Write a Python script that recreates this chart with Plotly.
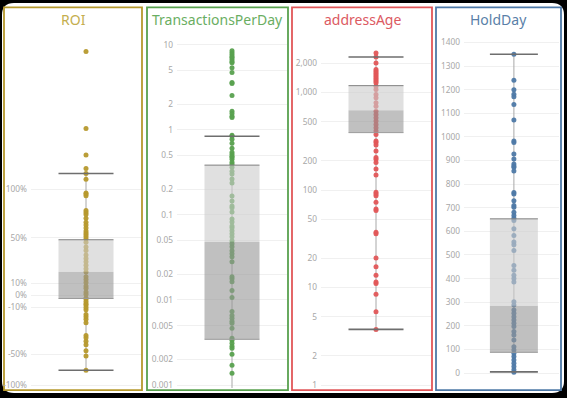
import numpy as np
import plotly.graph_objects as go

W, H = 567, 398

# ---------------- data ----------------
roi_pct = [241, 162, 135, 121, 116, 110, 96, 95, 93, 78, 76, 74, 70, 66, 63, 60, 57, 55, 53, 51,
           49, 46, 42, 39, 35, 32, 29, 26, 23, 20, 16, 13.5, 11, 8, 6, 3, 1, -2, -3, -5, -7, -8,
           -10, -12, -16, -18, -20, -23, -34, -36, -39, -42, -47, -53, -76]
roi_stats = dict(q1=-2.5, median=20.4, q3=48.3, low=-76, high=116)
roi_tick_pct = [-100, -50, -10, 0, 10, 50, 100]
roi_tick_text = ["-100%", "-50%", "-10%", "0%", "10%", "50%", "100%"]

tpd = [8.5, 8.06, 7.64, 7.24, 7.05, 6.68, 6.33, 6.16, 5.38, 4.71, 3.6, 3.5, 2.53, 1.65, 1.56,
       1.44, 1.40, 0.863, 0.84, 0.774, 0.695, 0.608, 0.546, 0.517, 0.49, 0.477, 0.452, 0.417,
       0.395, 0.364, 0.327, 0.302, 0.264, 0.237, 0.167, 0.146, 0.127, 0.121, 0.108, 0.0898,
       0.0828, 0.0743, 0.0705, 0.065, 0.060, 0.0553, 0.0497, 0.0458, 0.0423, 0.038, 0.035,
       0.0323, 0.0282, 0.0188, 0.0178, 0.0164, 0.0129, 0.0107, 0.00733, 0.00659, 0.00608,
       0.00561, 0.00531, 0.00464, 0.00355, 0.00336, 0.0031, 0.00286, 0.00271, 0.00231,
       0.00171, 0.00138]
tpd_stats = dict(q1=0.00345, median=0.0483, q3=0.385, low=0.0003, high=0.84)
tpd_ticks = [0.001, 0.002, 0.005, 0.01, 0.02, 0.05, 0.1, 0.2, 0.5, 1, 2, 5, 10]
tpd_tick_text = ["0.001", "0.002", "0.005", "0.01", "0.02", "0.05", "0.1", "0.2", "0.5", "1", "2", "5", "10"]

age = [2541, 2312, 2010, 1718, 1649, 1588, 1527, 1467, 1413, 1358, 1304, 1256, 1159, 1073, 955,
       883, 785, 725, 644, 597, 552, 510, 471, 436, 403, 372, 318, 307, 290, 252, 216, 207, 192,
       164, 143, 94.8, 91, 87.5, 74.9, 64, 61.5, 37, 35.6, 20.1, 16.3, 13.4, 11.4, 11, 8.55,
       5.65, 3.72]
age_stats = dict(q1=388, median=660, q3=1177, low=3.72, high=2312)
age_ticks = [1, 2, 5, 10, 20, 50, 100, 200, 500, 1000, 2000]
age_tick_text = ["1", "2", "5", "10", "20", "50", "100", "200", "500", "1,000", "2,000"]

hold = [1350, 1240, 1200, 1180, 1170, 1137, 1071, 983, 976, 927, 906, 885, 877, 871, 856, 765,
        758, 730, 709, 702, 681, 667, 656, 646, 611, 583, 555, 543, 519, 456, 435, 414, 400, 386,
        302, 288, 267, 253, 239, 225, 211, 197, 176, 161, 140, 112, 98, 84, 70, 56, 42, 28, 14, 4]
hold_stats = dict(q1=88, median=285, q3=653, low=5, high=1350)
hold_ticks = list(range(0, 1401, 100))

# custom ROI axis scale (tick anchors of the axis)
ROI_ANCHOR_PCT = [-100, -50, -10, 0, 10, 50, 100]
ROI_ANCHOR_POS = [-90, -59, -12, 0, 12, 58, 107]


def roi_scale(v):
    v = np.asarray(v, dtype=float)
    out = np.interp(v, ROI_ANCHOR_PCT, ROI_ANCHOR_POS)
    slope = (ROI_ANCHOR_POS[-1] - ROI_ANCHOR_POS[-2]) / (ROI_ANCHOR_PCT[-1] - ROI_ANCHOR_PCT[-2])
    hi = v > ROI_ANCHOR_PCT[-1]
    out[hi] = ROI_ANCHOR_POS[-1] + (v[hi] - ROI_ANCHOR_PCT[-1]) * slope
    return out


# ---------------- layout helpers ----------------
def px_x(p):
    return p / W


def px_y(p):
    return 1 - p / H


PLOT_TOP, PLOT_BOT = 35, 390

panels = [
    dict(title="ROI", color="#B6992D", title_color="#C4AE4E", border=(4, 142), dom=(31, 141),
         xr=(-1, 1), ytype="linear", yr=(-93, 262),
         vals=roi_scale(roi_pct), stats={k: float(roi_scale([v])[0]) for k, v in roi_stats.items()},
         tickvals=list(roi_scale(roi_tick_pct)), ticktext=roi_tick_text),
    dict(title="TransactionsPerDay", color="#59A14F", title_color="#6AAE62", border=(147, 288), dom=(177, 287),
         xr=(-1, 1), ytype="log", yr=(-3.035, 1.117),
         vals=tpd, stats=tpd_stats, tickvals=tpd_ticks, ticktext=tpd_tick_text),
    dict(title="addressAge", color="#E15759", title_color="#DC5A62", border=(292, 432), dom=(321, 431),
         xr=(-1, 1), ytype="log", yr=(-0.031, 3.592),
         vals=age, stats=age_stats, tickvals=age_ticks, ticktext=age_tick_text),
    dict(title="HoldDay", color="#4E79A7", title_color="#5A7FA8", border=(436, 561), dom=(464, 559),
         xr=(-1.04, 0.94), ytype="linear", yr=(-63.2, 1432),
         vals=hold, stats=hold_stats, tickvals=hold_ticks, ticktext=[str(t) for t in hold_ticks]),
]

fig = go.Figure()
HW = 0.5
shapes = []

# black frame with white rounded card
L, R, T, B, r = 2, 564, 3, 395, 12
path = (f"M {px_x(L + r)} {px_y(T)} L {px_x(R - r)} {px_y(T)} Q {px_x(R)} {px_y(T)} {px_x(R)} {px_y(T + r)} "
        f"L {px_x(R)} {px_y(B - r)} Q {px_x(R)} {px_y(B)} {px_x(R - r)} {px_y(B)} "
        f"L {px_x(L + r)} {px_y(B)} Q {px_x(L)} {px_y(B)} {px_x(L)} {px_y(B - r)} "
        f"L {px_x(L)} {px_y(T + r)} Q {px_x(L)} {px_y(T)} {px_x(L + r)} {px_y(T)} Z")
shapes.append(dict(type="path", xref="paper", yref="paper", path=path, fillcolor="white",
                   line=dict(width=0), layer="below"))

annotations = []
for i, p in enumerate(panels, start=1):
    xa, ya = f"x{i}" if i > 1 else "x", f"y{i}" if i > 1 else "y"
    st = p["stats"]
    # vertical whisker line
    fig.add_trace(go.Scatter(x=[0, 0], y=[st["low"], st["high"]], mode="lines",
                             line=dict(color="#A8A8A8", width=1), xaxis=xa, yaxis=ya,
                             hoverinfo="skip", showlegend=False))
    # dots
    fig.add_trace(go.Scatter(x=[0] * len(p["vals"]), y=list(p["vals"]), mode="markers",
                             marker=dict(color=p["color"], size=5, opacity=0.95, line=dict(width=0)),
                             xaxis=xa, yaxis=ya, showlegend=False))
    # lower box (q1 -> median), darker
    fig.add_trace(go.Scatter(x=[-HW, HW, HW, -HW, -HW],
                             y=[st["q1"], st["q1"], st["median"], st["median"], st["q1"]],
                             mode="lines", fill="toself", fillcolor="rgba(150,150,150,0.6)",
                             line=dict(width=0), xaxis=xa, yaxis=ya, hoverinfo="skip", showlegend=False))
    # upper box (median -> q3), lighter
    fig.add_trace(go.Scatter(x=[-HW, HW, HW, -HW, -HW],
                             y=[st["median"], st["median"], st["q3"], st["q3"], st["median"]],
                             mode="lines", fill="toself", fillcolor="rgba(203,203,203,0.6)",
                             line=dict(width=0), xaxis=xa, yaxis=ya, hoverinfo="skip", showlegend=False))
    # box edges
    for key, col in (("q1", "#9A9A9A"), ("q3", "#808080")):
        fig.add_trace(go.Scatter(x=[-HW, HW], y=[st[key], st[key]], mode="lines",
                                 line=dict(color=col, width=1), xaxis=xa, yaxis=ya,
                                 hoverinfo="skip", showlegend=False))
    # whisker caps
    for key in ("low", "high"):
        fig.add_trace(go.Scatter(x=[-HW, HW], y=[st[key], st[key]], mode="lines",
                                 line=dict(color="#6E6E6E", width=1.6), xaxis=xa, yaxis=ya,
                                 hoverinfo="skip", showlegend=False))

    xk = "xaxis" if i == 1 else f"xaxis{i}"
    yk = "yaxis" if i == 1 else f"yaxis{i}"
    fig.layout[xk] = dict(domain=[px_x(p["dom"][0]), px_x(p["dom"][1])], range=list(p["xr"]),
                          visible=False, fixedrange=True, anchor=ya)
    fig.layout[yk] = dict(domain=[px_y(PLOT_BOT), px_y(PLOT_TOP)], anchor=xa, type=p["ytype"],
                          range=list(p["yr"]), tickvals=list(p["tickvals"]), ticktext=p["ticktext"],
                          showgrid=True, gridcolor="#F0F0F0", gridwidth=1, zeroline=False,
                          showline=False, ticks="", ticklabelstandoff=3,
                          tickfont=dict(family="Noto Sans", size=8.3, color="#A8A8A8"),
                          fixedrange=True)
    # panel border
    shapes.append(dict(type="rect", xref="paper", yref="paper",
                       x0=px_x(p["border"][0]), x1=px_x(p["border"][1]),
                       y0=px_y(392), y1=px_y(7.5), line=dict(color=p["color"], width=1.8),
                       fillcolor="rgba(0,0,0,0)", layer="below"))
    annotations.append(dict(text=p["title"], xref="paper", yref="paper",
                            x=px_x((p["border"][0] + p["border"][1]) / 2), y=px_y(20),
                            xanchor="center", yanchor="middle", showarrow=False,
                            font=dict(family="Noto Sans", size=14, color=p["title_color"])))

fig.update_layout(width=W, height=H, margin=dict(l=0, r=0, t=0, b=0),
                  paper_bgcolor="black", plot_bgcolor="rgba(0,0,0,0)",
                  shapes=shapes, annotations=annotations, showlegend=False)

fig.write_html("out.html", config={"displayModeBar": False},
               post_script="document.body.style.margin='0px';document.body.style.overflow='hidden';")
